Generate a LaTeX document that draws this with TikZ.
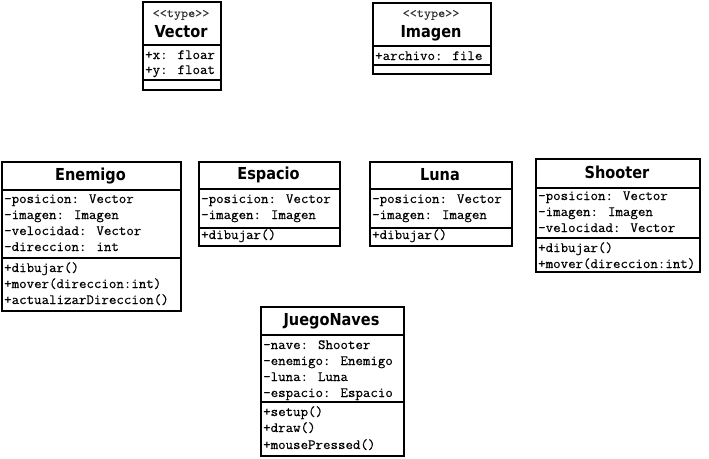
\documentclass[tikz,border=0pt]{standalone}
\usepackage{fontspec}
\newfontfamily\monof{Latin Modern Mono}[FakeStretch=1.03,FakeBold=0.4]
\newfontfamily\stf{Latin Modern Mono}[FakeStretch=1.1,FakeBold=0.3]
\newfontfamily\titlef{DejaVu Sans}[FakeStretch=0.88]
\begin{document}
\begin{tikzpicture}[x=1pt,y=-1pt,
  clsbox/.style={draw, line width=2pt, anchor=north west, inner sep=0pt},
  sepline/.style={line width=2pt},
  attr/.style={anchor=west, inner sep=0pt, font=\monof\fontsize{14.1}{15}\selectfont, text height=9pt, text depth=3pt},
  ttl/.style={anchor=center, inner sep=0pt, font=\titlef\bfseries\fontsize{16.5}{18}\selectfont},
  stereo/.style={anchor=center, inner sep=0pt, text=black!80, font=\stf\fontsize{12.5}{14}\selectfont}
]
\useasboundingbox (0,0) rectangle (709,458);
\fill[white] (0,0) rectangle (709,458);

% Vector
\node[clsbox, minimum width=78pt, minimum height=88pt] (vector) at (142,1) {};
\draw[sepline] (vector.west |- 0,45) -- (vector.east |- 0,45);
\draw[sepline] (vector.west |- 0,80) -- (vector.east |- 0,80);
\node[stereo] (vector-st) at (181,15) {<<type>>};
\node[ttl] (vector-t) at (181,32) {Vector};
\node[attr] (vector-a1) at (145,56) {+x: floar};
\node[attr] (vector-a2) at (145,71) {+y: float};

% Imagen
\node[clsbox, minimum width=118pt, minimum height=71pt] (imagen) at (372,2) {};
\draw[sepline] (imagen.west |- 0,46) -- (imagen.east |- 0,46);
\draw[sepline] (imagen.west |- 0,65) -- (imagen.east |- 0,65);
\node[stereo] (imagen-st) at (431,15) {<<type>>};
\node[ttl] (imagen-t) at (431,33) {Imagen};
\node[attr] (imagen-a1) at (375,57) {+archivo: file};

% Enemigo
\node[clsbox, minimum width=179pt, minimum height=149pt] (enemigo) at (1,161) {};
\draw[sepline] (enemigo.west |- 0,190) -- (enemigo.east |- 0,190);
\draw[sepline] (enemigo.west |- 0,258) -- (enemigo.east |- 0,258);
\node[ttl] (enemigo-t) at (90.5,176) {Enemigo};
\node[attr] (enemigo-a1) at (4,200) {-posicion: Vector};
\node[attr] (enemigo-a2) at (4,216) {-imagen: Imagen};
\node[attr] (enemigo-a3) at (4,232) {-velocidad: Vector};
\node[attr] (enemigo-a4) at (4,248) {-direccion: int};
\node[attr] (enemigo-m1) at (4,269) {+dibujar()};
\node[attr] (enemigo-m2) at (4,285) {+mover(direccion:int)};
\node[attr] (enemigo-m3) at (4,301) {+actualizarDireccion()};

% Espacio
\node[clsbox, minimum width=141pt, minimum height=84pt] (espacio) at (198,161) {};
\draw[sepline] (espacio.west |- 0,189) -- (espacio.east |- 0,189);
\draw[sepline] (espacio.west |- 0,228) -- (espacio.east |- 0,228);
\node[ttl] (espacio-t) at (268.5,175) {Espacio};
\node[attr] (espacio-a1) at (201,200) {-posicion: Vector};
\node[attr] (espacio-a2) at (201,216) {-imagen: Imagen};
\node[attr] (espacio-m1) at (201,236) {+dibujar()};

% Luna
\node[clsbox, minimum width=142pt, minimum height=84pt] (luna) at (369,161) {};
\draw[sepline] (luna.west |- 0,189) -- (luna.east |- 0,189);
\draw[sepline] (luna.west |- 0,228) -- (luna.east |- 0,228);
\node[ttl] (luna-t) at (440,175) {Luna};
\node[attr] (luna-a1) at (372,200) {-posicion: Vector};
\node[attr] (luna-a2) at (372,216) {-imagen: Imagen};
\node[attr] (luna-m1) at (372,236) {+dibujar()};

% Shooter
\node[clsbox, minimum width=164pt, minimum height=113pt] (shooter) at (535,158) {};
\draw[sepline] (shooter.west |- 0,188) -- (shooter.east |- 0,188);
\draw[sepline] (shooter.west |- 0,238) -- (shooter.east |- 0,238);
\node[ttl] (shooter-t) at (617,172) {Shooter};
\node[attr] (shooter-a1) at (538,197) {-posicion: Vector};
\node[attr] (shooter-a2) at (538,213) {-imagen: Imagen};
\node[attr] (shooter-a3) at (538,229) {-velocidad: Vector};
\node[attr] (shooter-m1) at (538,249) {+dibujar()};
\node[attr] (shooter-m2) at (538,265) {+mover(direccion:int)};

% JuegoNaves
\node[clsbox, minimum width=143pt, minimum height=149pt] (juego) at (260,306) {};
\draw[sepline] (juego.west |- 0,335) -- (juego.east |- 0,335);
\draw[sepline] (juego.west |- 0,402) -- (juego.east |- 0,402);
\node[ttl] (juego-t) at (331.5,321) {JuegoNaves};
\node[attr] (juego-a1) at (263,346) {-nave: Shooter};
\node[attr] (juego-a2) at (263,362) {-enemigo: Enemigo};
\node[attr] (juego-a3) at (263,378) {-luna: Luna};
\node[attr] (juego-a4) at (263,394) {-espacio: Espacio};
\node[attr] (juego-m1) at (263,413) {+setup()};
\node[attr] (juego-m2) at (263,429) {+draw()};
\node[attr] (juego-m3) at (263,446) {+mousePressed()};
\end{tikzpicture}
\end{document}
